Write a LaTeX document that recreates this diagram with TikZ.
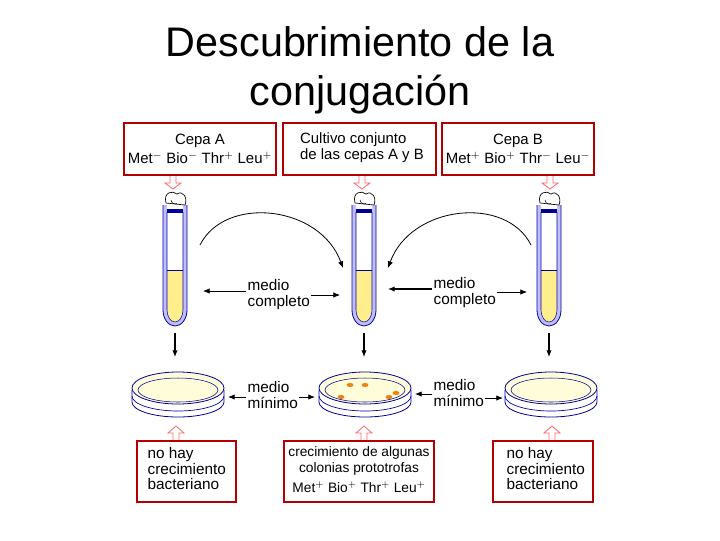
\documentclass[tikz,border=0pt]{standalone}
\usepackage{fontspec}
\setmainfont{Liberation Sans}
\usetikzlibrary{arrows.meta}
\tikzset{
  redbox/.style={draw=red!70!black, line width=1.2pt, fill=white},
  lbl/.style={font=\fontsize{11.5}{11.5}\selectfont, align=left, inner sep=1pt},
  boxlbl/.style={lbl, font=\fontsize{11.2}{12}\selectfont},
  blk/.style={-{Latex[length=5pt,width=4pt]}, line width=0.8pt},
  openarr/.style={draw=red!60, fill=white, line width=0.6pt}
}
\newcommand{\tube}[1]{%
  \fill[blue!25] (#1-12,205) -- (#1-12,310) arc (180:0:12 and 16) -- (#1+12,205) -- cycle;
  \fill[white] (#1-8,205) -- (#1-8,310) arc (180:0:8 and 12) -- (#1+8,205) -- cycle;
  \fill[orange!30!yellow!45] (#1-8,270) -- (#1-8,310) arc (180:0:8 and 12) -- (#1+8,270) -- cycle;
  \draw[blue!60!black, line width=0.6pt] (#1-12,205) -- (#1-12,310) arc (180:0:12 and 16) -- (#1+12,205);
  \draw[blue!60!black, line width=0.4pt] (#1-8,212) -- (#1-8,310) arc (180:0:8 and 12) -- (#1+8,212);
  \draw[blue!60!black] (#1-8,270) -- (#1+8,270);
  \fill[blue!60!black] (#1-8,209) rectangle (#1+8,213);
  \draw[fill=white, line width=0.5pt] (#1-9,203) .. controls (#1-12,192) and (#1-2,190) .. (#1+2,194)
    .. controls (#1+8,190) and (#1+13,198) .. (#1+10,205) -- cycle;
  \draw[line width=0.4pt] (#1-4,200) arc (180:60:4);
}
\newcommand{\plate}[1]{%
  \draw[blue!60!black, fill=white, line width=0.6pt] (#1-46,390) -- (#1-46,402) arc (180:0:46 and 15) -- (#1+46,390);
  \draw[blue!60!black, line width=0.5pt] (#1-46,396) arc (180:0:46 and 15);
  \draw[blue!60!black, fill=yellow!15, line width=0.6pt] (#1,388) ellipse (46 and 16);
  \draw[blue!60!black, line width=0.4pt] (#1,390) ellipse (40 and 12);
}
\newcommand{\uparr}[2]{%
  \draw[openarr] (#1-3,#2) -- (#1-3,#2-8) -- (#1-8,#2-8) -- (#1,#2-15) -- (#1+8,#2-8) -- (#1+3,#2-8) -- (#1+3,#2);
}
\newcommand{\downarr}[2]{%
  \draw[openarr] (#1-3,#2) -- (#1-3,#2+7) -- (#1-8,#2+7) -- (#1,#2+13) -- (#1+8,#2+7) -- (#1+3,#2+7) -- (#1+3,#2);
}
\begin{document}
\begin{tikzpicture}[x=0.75pt, y=-0.75pt]
  \useasboundingbox (0,0) rectangle (720,540);
  % title
  \node[font=\fontsize{31}{31}\selectfont] (t1) at (360,42) {Descubrimiento de la};
  \node[font=\fontsize{31}{31}\selectfont] (t2) at (360,95) {conjugación};
  % top boxes
  \draw[redbox] (124,123) rectangle (276,175);
  \draw[redbox] (283,123) rectangle (436,175);
  \draw[redbox] (442,123) rectangle (594,175);
  \node[boxlbl, align=center] (cepaA) at (200,149) {Cepa A\\[2pt]Met$^-$ Bio$^-$ Thr$^+$ Leu$^+$};
  \node[boxlbl, align=left] (mix) at (362,148) {Cultivo conjunto\\de las cepas A y B};
  \node[boxlbl, align=center] (cepaB) at (518,149) {Cepa B\\[2pt]Met$^+$ Bio$^+$ Thr$^-$ Leu$^-$};
  \downarr{173}{176} \downarr{362}{176} \downarr{550}{176}
  % tubes
  \tube{175} \tube{364} \tube{549}
  \coordinate (tA) at (175,333); \coordinate (tM) at (364,333); \coordinate (tB) at (549,333);
  \coordinate (pA) at (175,357); \coordinate (pM) at (364,357); \coordinate (pB) at (549,357);
  \draw[blk] (tA) -- (pA); \draw[blk] (tM) -- (pM); \draw[blk] (tB) -- (pB);
  % curved arrows
  \coordinate (cA) at (200,245); \coordinate (cM1) at (343,268);
  \coordinate (cB) at (531,245); \coordinate (cM2) at (388,268);
  \draw[blk, line width=0.6pt] (cA) .. controls (225,195) and (320,205) .. (cM1);
  \draw[blk, line width=0.6pt] (cB) .. controls (506,195) and (411,205) .. (cM2);
  % medio completo
  \node[lbl, anchor=north west] (mc1) at (246,278) {medio\\completo};
  \node[lbl, anchor=north west] (mc2) at (432,276) {medio\\completo};
  \draw[blk, line width=0.5pt] (mc1.west |- 0,291) -- (203,291);
  \draw[blk, line width=0.5pt] (mc1.east |- 0,295) -- (340,295);
  \draw[blk, line width=0.8pt] (mc2.west |- 0,289) -- (388,289);
  \draw[blk, line width=0.5pt] (mc2.east |- 0,292) -- (527,292);
  % plates
  \plate{178} \plate{365} \plate{551}
  \foreach \cx/\cy in {350/385,365/385,341/397,389/397,396/393}
    \fill[orange!70!brown] (\cx,\cy) ellipse (3.5 and 2);
  % medio minimo
  \node[lbl, anchor=north west] (mm1) at (246,380) {medio\\mínimo};
  \node[lbl, anchor=north west] (mm2) at (432,378) {medio\\mínimo};
  \draw[blk, line width=0.6pt] (mm1.west |- 0,397) -- (228,397);
  \draw[blk, line width=0.6pt] (mm1.east |- 0,397) -- (315,397);
  \draw[blk, line width=0.6pt] (mm2.west |- 0,394) -- (415,394);
  \draw[blk, line width=0.6pt] (mm2.east |- 0,398) -- (503,398);
  % bottom boxes
  \uparr{176}{441} \uparr{364}{441} \uparr{552}{441}
  \draw[redbox] (137,441) rectangle (236,502);
  \draw[redbox] (284,441) rectangle (434,502);
  \draw[redbox] (493,441) rectangle (593,502);
  \node[lbl, anchor=north west] (nA) at (146,446) {no hay\\crecimiento\\bacteriano};
  \node[lbl, font=\fontsize{10.3}{12}\selectfont, align=center, anchor=north] (gM) at (359,445) {crecimiento de algunas\\colonias prototrofas\\[3pt]Met$^+$ Bio$^+$ Thr$^+$ Leu$^+$};
  \node[lbl, anchor=north west] (nB) at (505,446) {no hay\\crecimiento\\bacteriano};
\end{tikzpicture}
\end{document}
